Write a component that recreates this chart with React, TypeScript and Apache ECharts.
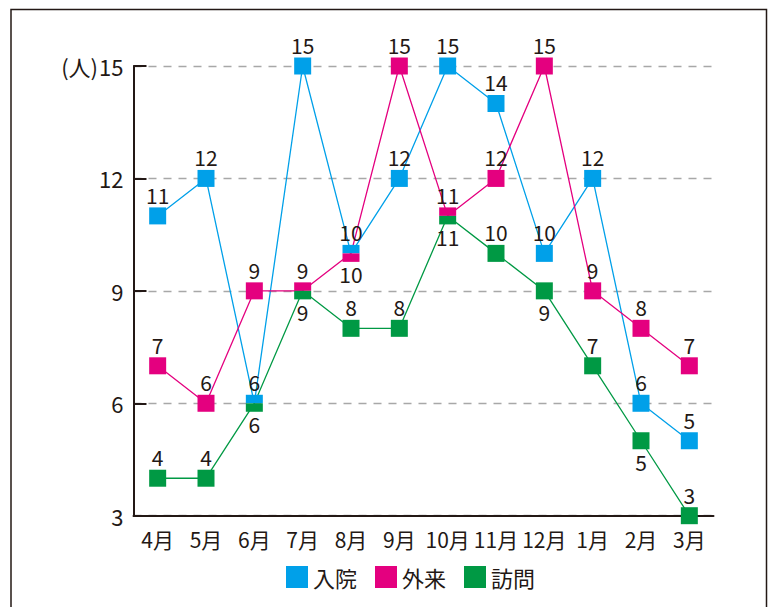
import React, { useEffect, useRef } from "react";
import * as echarts from "echarts";

const months = ["4月", "5月", "6月", "7月", "8月", "9月", "10月", "11月", "12月", "1月", "2月", "3月"];
const seriesNames = ["入院", "外来", "訪問"];
const nyuin = [11, 12, 6, 15, 10, 12, 15, 14, 10, 12, 6, 5];
const gairai = [7, 6, 9, 9, 10, 15, 11, 12, 15, 9, 8, 7];
const houmon = [4, 4, 6, 9, 8, 8, 11, 10, 9, 7, 5, 3];
// label positions ('t' above, 'b' below)
const nyuinPos = ["t", "t", "t", "t", "t", "t", "t", "t", "t", "t", "t", "t"];
const gairaiPos = ["t", "t", "t", "t", "b", "t", "t", "t", "t", "t", "t", "t"];
const houmonPos = ["t", "t", "b", "b", "t", "t", "b", "t", "b", "t", "b", "t"];
// split markers where points coincide ('top' half / 'bot' half)
const nyuinSplit = ["", "", "top", "", "top", "", "", "", "", "", "", ""];
const gairaiSplit = ["", "", "", "top", "bot", "", "top", "", "", "", "", ""];
const houmonSplit = ["", "", "bot", "bot", "", "", "bot", "", "", "", "", ""];
const yTicks = [3, 6, 9, 12, 15];

const colors = ["#00a0e9", "#e4007f", "#009944"];
const FONT = "'Noto Sans CJK JP', 'Noto Sans', sans-serif";
const TXT = "#231815";
const MS = 17;

function buildData(vals: number[], pos: string[], split: string[]) {
  return vals.map((v, i) => {
    const item: any = {
      value: v,
      label: { position: pos[i] === "t" ? "top" : "bottom" },
    };
    if (split[i] === "top") {
      item.symbolSize = [MS, MS / 2];
      item.symbolOffset = [0, -MS / 4];
    } else if (split[i] === "bot") {
      item.symbolSize = [MS, MS / 2];
      item.symbolOffset = [0, MS / 4];
    }
    return item;
  });
}

export default function App() {
  const ref = useRef<HTMLDivElement>(null);
  useEffect(() => {
    document.body.style.margin = "0";
    const chart = echarts.init(ref.current!, null, { renderer: "svg" });
    const mk = (name: string, vals: number[], pos: string[], split: string[], color: string) => ({
      name,
      type: "line",
      data: buildData(vals, pos, split),
      symbol: "rect",
      symbolSize: MS,
      itemStyle: { color },
      lineStyle: { color, width: 1.3 },
      label: {
        show: true,
        distance: 2,
        fontSize: 21,
        fontFamily: FONT,
        color: TXT,
      },
      emphasis: { disabled: true },
    });
    chart.setOption({
      animation: false,
      textStyle: { fontFamily: FONT },
      grid: { left: 133.5, right: 54.5, top: 66, bottom: 91.3 },
      legend: {
        data: seriesNames,
        icon: "rect",
        left: 281,
        top: 561,
        itemWidth: 22,
        itemHeight: 22,
        itemGap: 18,
        textStyle: { fontSize: 22, color: TXT, fontFamily: FONT },
      },
      xAxis: {
        type: "category",
        data: months,
        boundaryGap: true,
        axisLine: { lineStyle: { color: "#231815", width: 2 } },
        axisTick: { inside: true, length: 10, lineStyle: { color: "#231815", width: 1.5 } },
        axisLabel: { color: TXT, fontSize: 21, margin: 13, fontFamily: FONT, interval: 0 },
      },
      yAxis: {
        type: "value",
        min: yTicks[0],
        max: yTicks[yTicks.length - 1],
        interval: 3,
        axisLine: { show: true, lineStyle: { color: "#231815", width: 2 } },
        axisTick: { show: true, inside: true, length: 13, lineStyle: { color: "#231815", width: 2 } },
        axisLabel: { color: TXT, fontSize: 22, margin: 10, fontFamily: FONT },
        splitLine: {
          show: true,
          lineStyle: { color: "#a8a8a8", width: 1.3, type: [8, 7] },
        },
      },
      graphic: [
        {
          type: "rect",
          shape: { x: 11, y: 9.5, width: 755.5, height: 620 },
          style: { fill: "none", stroke: "#231815", lineWidth: 1.5 },
          silent: true,
        },
        {
          type: "text",
          x: 98,
          y: 66,
          style: {
            text: "(人)",
            fontSize: 22,
            fontFamily: FONT,
            fill: TXT,
            align: "right",
            verticalAlign: "middle",
          },
        },
      ],
      series: [
        mk(seriesNames[0], nyuin, nyuinPos, nyuinSplit, colors[0]),
        mk(seriesNames[1], gairai, gairaiPos, gairaiSplit, colors[1]),
        mk(seriesNames[2], houmon, houmonPos, houmonSplit, colors[2]),
      ],
    });
    return () => chart.dispose();
  }, []);
  return <div ref={ref} style={{ width: 768, height: 607 }} />;
}
